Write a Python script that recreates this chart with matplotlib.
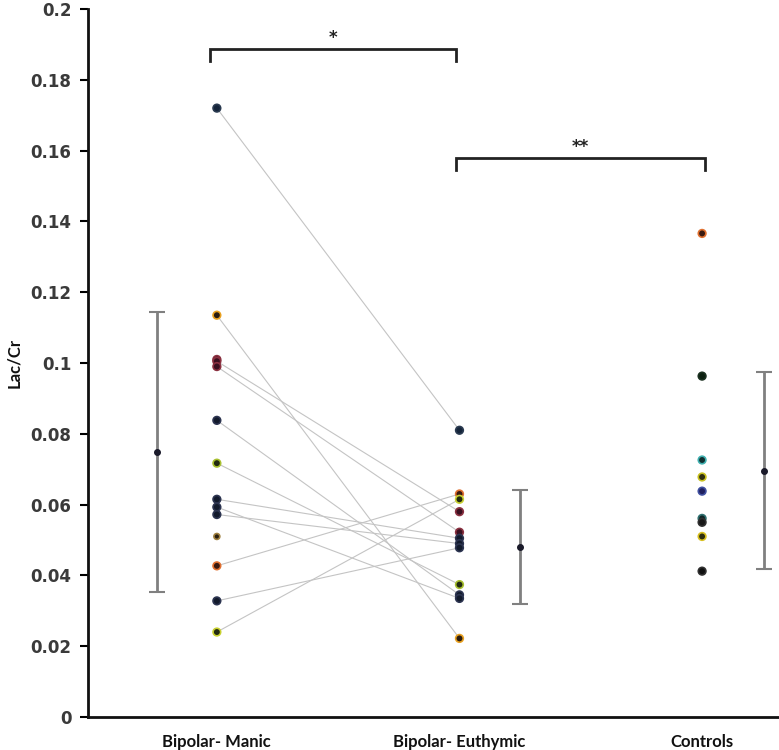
import matplotlib
matplotlib.use("Agg")
import matplotlib.pyplot as plt

# group names on the x axis
groups = ["Bipolar- Manic", "Bipolar- Euthymic", "Controls"]

# paired patients: manic value -> euthymic value (same subject)
manic_paired = [0.172, 0.1135, 0.1005, 0.0990, 0.0838, 0.0717,
                0.0615, 0.0593, 0.0572, 0.0427, 0.0328, 0.024]
euthymic_paired = [0.081, 0.0222, 0.058, 0.0522, 0.0345, 0.0374,
                   0.0505, 0.0335, 0.0490, 0.063, 0.0478, 0.0615]
paired_fill = ["#14243a", "#2a1c10", "#3a1020", "#3a1020", "#121a2c", "#222a10",
               "#121a2c", "#121a2c", "#121a2c", "#3a1a10", "#121a2c", "#222a10"]
paired_edge = ["#2a3a50", "#e8a020", "#8a3040", "#8a3040", "#2c3450", "#a8c030",
               "#2c3450", "#2c3450", "#2c3450", "#e07030", "#2c3450", "#c8d030"]

# manic patients without a euthymic follow-up
manic_single = [0.101, 0.051]
manic_single_fill = ["#3a1020", "#2a2010"]
manic_single_edge = ["#8a3040", "#a08040"]

# controls
controls = [0.1366, 0.0963, 0.0726, 0.0678, 0.0638, 0.0561, 0.0550, 0.0510, 0.0412]
controls_fill = ["#3a1a10", "#0c2010", "#103030", "#303010", "#202060",
                 "#102828", "#181818", "#303010", "#101010"]
controls_edge = ["#e07030", "#1a3020", "#40b0b0", "#c8c020", "#4050a0",
                 "#307070", "#303030", "#d8c020", "#303030"]

# group mean and sd shown as error bars
means = [0.0748, 0.0480, 0.0696]
sds = [0.0395, 0.0162, 0.0279]

fig = plt.figure(figsize=(7.79, 7.5), dpi=100)
ax = fig.add_axes([0.113, 0.044, 0.887, 0.944])

# lines joining each patient's manic and euthymic value
for m, e in zip(manic_paired, euthymic_paired):
    ax.plot([1, 2], [m, e], color="#c4c4c4", linewidth=0.8, zorder=1)

# points
ax.scatter([1] * len(manic_paired), manic_paired, s=30, c=paired_fill,
           edgecolors=paired_edge, linewidths=1.2, zorder=3)
ax.scatter([1] * len(manic_single), manic_single, s=[30, 18], c=manic_single_fill,
           edgecolors=manic_single_edge, linewidths=1.2, zorder=2)
ax.scatter([2] * len(euthymic_paired), euthymic_paired, s=30, c=paired_fill,
           edgecolors=paired_edge, linewidths=1.2, zorder=3)
ax.scatter([3] * len(controls), controls, s=30, c=controls_fill,
           edgecolors=controls_edge, linewidths=1.2, zorder=3)

# mean +/- sd beside each group
err_x = [0.753, 2.251, 3.255]
ax.errorbar(err_x, means, yerr=sds, fmt="o", color="#1a1a2a", markersize=4,
            ecolor="#808080", elinewidth=2, capsize=6, capthick=1.5, zorder=2)

# significance brackets
def bracket(x0, x1, y, h, label):
    ax.plot([x0, x0, x1, x1], [y - h, y, y, y - h], color="#222222",
            linewidth=2, solid_joinstyle="miter", zorder=2)
    ax.text((x0 + x1) / 2, y + 0.0005, label, ha="center", va="bottom",
            fontsize=12, fontweight="bold", color="#222222")

bracket(0.97, 1.985, 0.1888, 0.0034, "*")
bracket(1.985, 3.01, 0.1580, 0.0034, "**")

ax.set_xlim(0.469, 3.317)
ax.set_ylim(0, 0.2)
ax.set_yticks([i * 0.02 for i in range(11)])
ax.set_yticklabels(["0", "0.02", "0.04", "0.06", "0.08", "0.1",
                    "0.12", "0.14", "0.16", "0.18", "0.2"])
ax.set_xticks([1, 2, 3])
ax.set_xticklabels(groups)

for sp in ["top", "right"]:
    ax.spines[sp].set_visible(False)
for sp in ["left", "bottom"]:
    ax.spines[sp].set_linewidth(2)
    ax.spines[sp].set_color("#111111")

ax.tick_params(axis="y", direction="out", length=6, width=1.5, pad=6,
               labelsize=12, labelcolor="#3a3a3a")
for lab in ax.get_yticklabels():
    lab.set_fontweight("bold")
ax.tick_params(axis="x", length=0, pad=12)
for lab in ax.get_xticklabels():
    lab.set_fontfamily("Lato")
    lab.set_fontweight("bold")
    lab.set_fontsize(12)
    lab.set_color("#111111")

ax.set_ylabel("Lac/Cr", fontfamily="Lato", fontweight="bold", fontsize=12,
              color="#111111")
ax.yaxis.set_label_coords(-0.096, 0.5)

fig.savefig("out.png", dpi=100)
